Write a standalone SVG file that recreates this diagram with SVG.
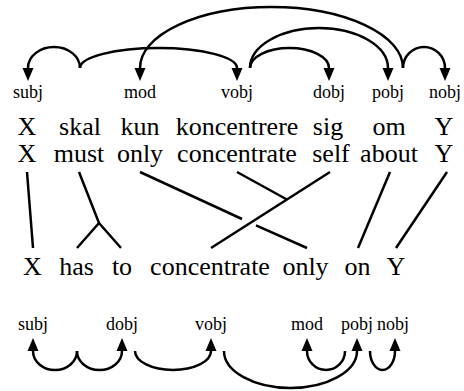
<svg xmlns="http://www.w3.org/2000/svg" width="464" height="391" viewBox="0 0 464 391" font-family="'Liberation Serif', 'DejaVu Serif', serif">
<style>
text{font-family:'Liberation Serif','DejaVu Serif',serif;fill:#000;text-anchor:middle}
.w{font-size:26px}
.l{font-size:18px}
.c{fill:none;stroke:#000;stroke-width:2.5}
.a{marker-end:url(#ah)}
</style>
<defs>
<marker id="ah" markerUnits="userSpaceOnUse" markerWidth="14" markerHeight="12" viewBox="0 -6 14 12" refX="0" refY="0" orient="auto">
<path d="M0,-5.5 L13,0 L0,5.5 z" fill="#000"/>
</marker>
</defs>
<rect width="464" height="391" fill="#fff"/>
<g id="top-labels">
<g id="tl-subj"><text class="l" x="28" y="98">subj</text></g>
<g id="tl-mod"><text class="l" x="140" y="98">mod</text></g>
<g id="tl-vobj"><text class="l" x="237" y="98">vobj</text></g>
<g id="tl-dobj"><text class="l" x="329" y="98">dobj</text></g>
<g id="tl-pobj"><text class="l" x="388" y="98">pobj</text></g>
<g id="tl-nobj"><text class="l" x="445" y="98">nobj</text></g>
</g>
<g id="row-danish">
<g id="da-X"><text class="w" x="27" y="135">X</text></g>
<g id="da-skal"><text class="w" x="80" y="135">skal</text></g>
<g id="da-kun"><text class="w" x="140" y="135">kun</text></g>
<g id="da-koncentrere"><text class="w" x="237" y="135">koncentrere</text></g>
<g id="da-sig"><text class="w" x="328" y="135">sig</text></g>
<g id="da-om"><text class="w" x="389" y="135">om</text></g>
<g id="da-Y"><text class="w" x="444" y="135">Y</text></g>
</g>
<g id="row-gloss">
<g id="gl-X"><text class="w" x="27" y="162">X</text></g>
<g id="gl-must"><text class="w" x="79" y="162">must</text></g>
<g id="gl-only"><text class="w" x="140" y="162">only</text></g>
<g id="gl-concentrate"><text class="w" x="237" y="162">concentrate</text></g>
<g id="gl-self"><text class="w" x="331" y="162">self</text></g>
<g id="gl-about"><text class="w" x="389" y="162">about</text></g>
<g id="gl-Y"><text class="w" x="444" y="162">Y</text></g>
</g>
<g id="row-english">
<g id="en-X"><text class="w" x="32.5" y="275">X</text></g>
<g id="en-has"><text class="w" x="76.5" y="275">has</text></g>
<g id="en-to"><text class="w" x="122" y="275">to</text></g>
<g id="en-concentrate"><text class="w" x="210" y="275">concentrate</text></g>
<g id="en-only"><text class="w" x="305.5" y="275">only</text></g>
<g id="en-on"><text class="w" x="357.5" y="275">on</text></g>
<g id="en-Y"><text class="w" x="396" y="275">Y</text></g>
</g>
<g id="bottom-labels">
<g id="bl-subj"><text class="l" x="33" y="330">subj</text></g>
<g id="bl-dobj"><text class="l" x="122" y="330">dobj</text></g>
<g id="bl-vobj"><text class="l" x="211" y="330">vobj</text></g>
<g id="bl-mod"><text class="l" x="307" y="330">mod</text></g>
<g id="bl-pobj"><text class="l" x="357" y="330">pobj</text></g>
<g id="bl-nobj"><text class="l" x="393" y="330">nobj</text></g>
</g>
<g id="connectors">
<path class="c a" d="M80,68 A26,21 0 0 0 28,68"/>
<path class="c a" d="M80,68 A78.5,20 0 0 1 237,68"/>
<path class="c a" d="M403,68 A131.5,61 0 0 0 140,68"/>
<path class="c a" d="M250,68 A39.5,20 0 0 1 329,68"/>
<path class="c a" d="M250,68 A69,40 0 0 1 388,68"/>
<path class="c a" d="M403,68 A21,21 0 0 1 445,68"/>
<path class="c" d="M27,172 L33,248"/>
<path class="c" d="M79,172 L99,223 L77,248 M99,223 L121,248"/>
<path class="c" d="M140,172 L242,219 M256,225.4 L307,248"/>
<path class="c" d="M330,172 L211,248 M237,172 L286,199"/>
<path class="c" d="M390,172 L358,248"/>
<path class="c" d="M447,172 L396,248"/>
<path class="c a" d="M77,351 A22,19 0 0 1 33,351"/>
<path class="c a" d="M77,351 A22.5,19 0 0 0 122,351"/>
<path class="c a" d="M135,351 A38,19 0 0 0 211,351"/>
<path class="c a" d="M224,351 A66.5,37 0 0 0 357,351"/>
<path class="c a" d="M345,351 A19,19 0 0 1 307,351"/>
<path class="c a" d="M370,351 A12.5,19 0 0 0 395,351"/>
</g>
</svg>
